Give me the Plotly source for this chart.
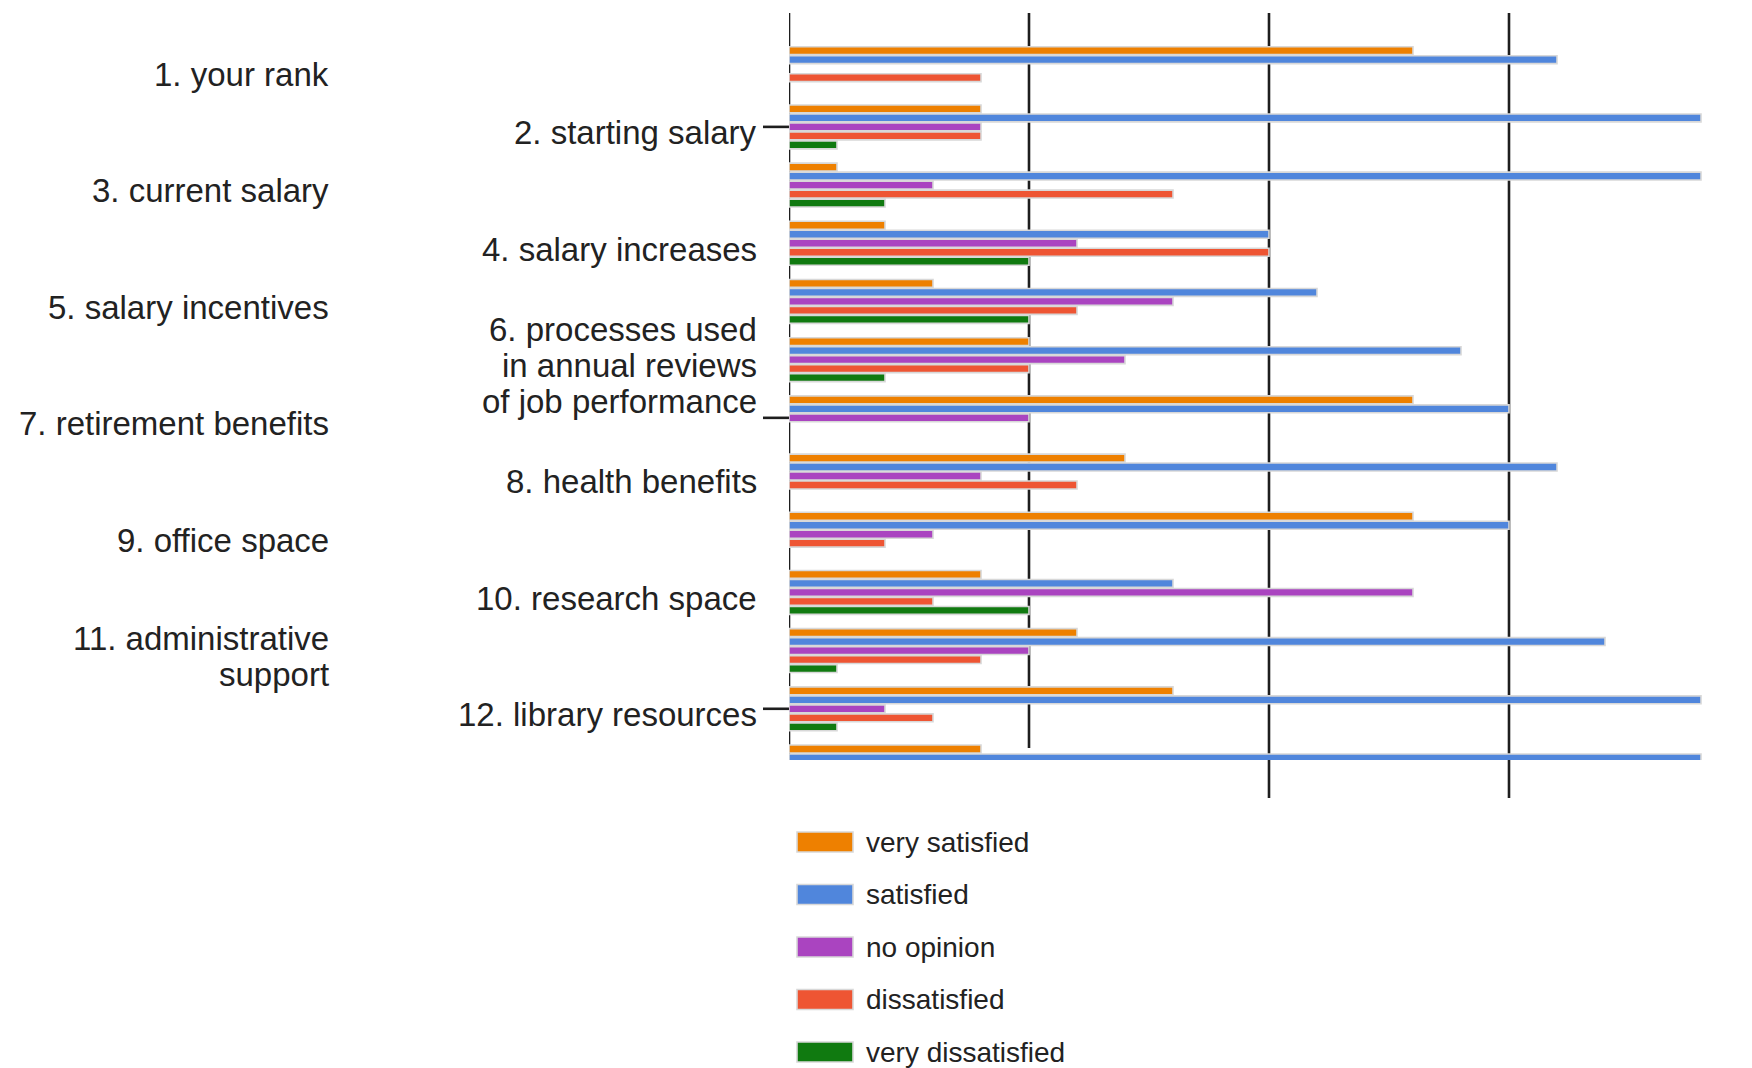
import plotly.graph_objects as go

# ---------------- data ----------------
categories = [
    "1. your rank",
    "2. starting salary",
    "3. current salary",
    "4. salary increases",
    "5. salary incentives",
    "6. processes used<br>in annual reviews<br>of job performance",
    "7. retirement benefits",
    "8. health benefits",
    "9. office space",
    "10. research space",
    "11. administrative<br>support",
    "12. library resources",
    "13. computing",
]
series_names = ["very satisfied", "satisfied", "no opinion", "dissatisfied", "very dissatisfied"]
very_satisfied    = [13, 4, 1, 2, 3, 5, 13, 7, 13, 4, 6, 8, 4]
satisfied         = [16, 19, 19, 10, 11, 14, 15, 16, 15, 8, 17, 19, 19]
no_opinion        = [0, 4, 3, 6, 8, 7, 5, 4, 3, 13, 5, 2, 8]
dissatisfied      = [4, 4, 8, 10, 6, 5, 0, 6, 2, 3, 4, 3, None]
very_dissatisfied = [0, 1, 2, 5, 5, 2, 0, 0, 0, 5, 1, 1, None]
x_ticks = [0, 5, 10, 15, 20]

series_values = [very_satisfied, satisfied, no_opinion, dissatisfied, very_dissatisfied]
colors = ["#ee8000", "#5086dc", "#aa44c0", "#ee5533", "#107a10"]

# ---------------- layout geometry (pixels of the 1752x1068 page) ----------------
PAGE_W, PAGE_H = 1752, 1068
OFF = 8                      # default page margin of the html body
W, H = PAGE_W - OFF, PAGE_H - OFF
PLOT_L, PLOT_R, PLOT_T, PLOT_B = 789, 1749, 13, 760   # page pixels
L = PLOT_L - OFF
T = PLOT_T - OFF
R = W - (PLOT_R - OFF)
B = H - (PLOT_B - OFF)
PW, PH = W - L - R, H - T - B
FONT = "Liberation Sans, Arial, sans-serif"
TEXT = "#222222"


def px_x(x):
    return (x - PLOT_L) / PW


def px_y(y):
    return (PLOT_B - y) / PH


fig = go.Figure()
for name, vals, col in zip(series_names, series_values, colors):
    fig.add_trace(go.Bar(
        name=name,
        y=categories,
        x=[v if v else None for v in vals],
        orientation="h",
        marker=dict(color=col, line=dict(color="#d8d8d8", width=1.6)),
        showlegend=False,
        hoverinfo="x+y+name",
    ))

shapes = []
annotations = []

# vertical grid lines (drawn under the bars)
grid_bottom = {0: 760, 5: 748, 10: 798, 15: 798, 20: 798}
for v in x_ticks:
    shapes.append(dict(type="line", xref="x", yref="paper", x0=v, x1=v,
                       y0=px_y(grid_bottom[v]), y1=1, layer="below",
                       line=dict(color="#1e1e1e", width=2.6)))

# category labels, staggered left / right
line_step = 0.62
label_shift = 0.1
for i, cat in enumerate(categories):
    lines = cat.split("<br>")
    xr = px_x(331) if i % 2 == 0 else px_x(759)
    n = len(lines)
    for j, ln in enumerate(lines):
        annotations.append(dict(
            xref="paper", yref="y", x=xr,
            y=i + label_shift + (j - (n - 1) / 2) * line_step,
            text=ln, showarrow=False, xanchor="right", yanchor="middle",
            font=dict(family=FONT, size=33, color=TEXT)))

# short tick marks every five categories
for i in range(1, len(categories), 5):
    shapes.append(dict(type="line", xref="paper", yref="y",
                       x0=px_x(763), x1=px_x(789), y0=i, y1=i,
                       line=dict(color="#1e1e1e", width=2.6)))

# legend below the plot
for k, (name, col) in enumerate(zip(series_names, colors)):
    cy = 842 + k * 52.5
    shapes.append(dict(type="rect", xref="paper", yref="paper",
                       x0=px_x(797), x1=px_x(853), y0=px_y(cy - 10), y1=px_y(cy + 10),
                       fillcolor=col, line=dict(color="#d8d8d8", width=1.6)))
    annotations.append(dict(xref="paper", yref="paper", x=px_x(864), y=px_y(cy),
                            text=name, showarrow=False, xanchor="left", yanchor="middle",
                            font=dict(family=FONT, size=28, color=TEXT)))

fig.update_layout(
    width=W, height=H,
    margin=dict(l=L, r=R, t=T, b=B, pad=0),
    paper_bgcolor="white",
    plot_bgcolor="rgba(0,0,0,0)",
    barmode="group",
    bargap=0.227,
    bargroupgap=0.12,
    xaxis=dict(range=[0, 20], tickvals=x_ticks, showticklabels=False, showgrid=False,
               zeroline=False, showline=False, ticks=""),
    yaxis=dict(type="category", categoryorder="array", categoryarray=categories,
               range=[11.88, -0.957], showticklabels=False, showgrid=False,
               zeroline=False, showline=False, ticks=""),
    shapes=shapes,
    annotations=annotations,
    font=dict(family=FONT, color=TEXT),
)

fig.write_html("out.html")
